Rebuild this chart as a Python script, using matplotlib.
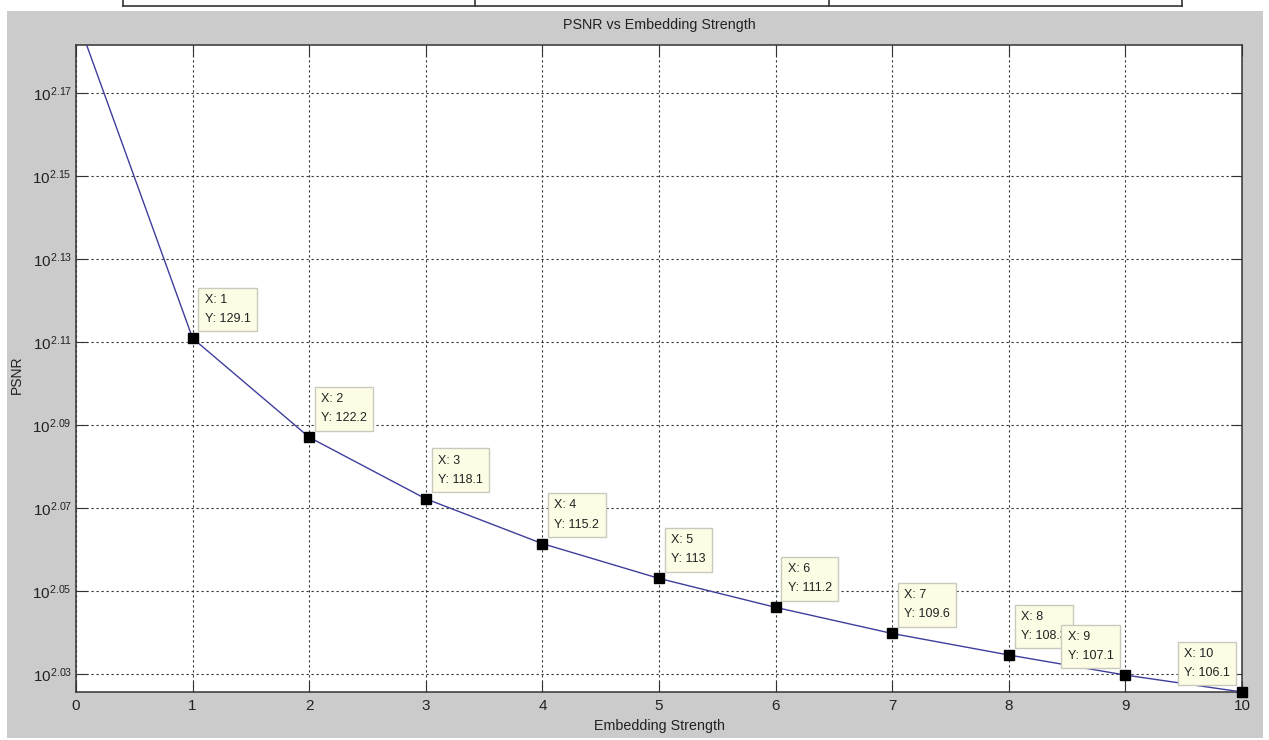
import matplotlib
matplotlib.use('Agg')
import matplotlib.pyplot as plt
from matplotlib.patches import Rectangle
from matplotlib.lines import Line2D
from matplotlib.ticker import FixedLocator, FuncFormatter, NullLocator
import numpy as np

# ---------------- data ----------------
strength = [0, 1, 2, 3, 4, 5, 6, 7, 8, 9, 10]
psnr = [154.4, 129.1, 122.2, 118.1, 115.2, 113.0, 111.2, 109.6, 108.3, 107.1, 106.1]
tip_x = [1, 2, 3, 4, 5, 6, 7, 8, 9, 10]
tip_y = [129.1, 122.2, 118.1, 115.2, 113.0, 111.2, 109.6, 108.3, 107.1, 106.1]
tip_y_text = ['129.1', '122.2', '118.1', '115.2', '113', '111.2', '109.6', '108.3', '107.1', '106.1']
tip_side = ['r', 'r', 'r', 'r', 'r', 'r', 'r', 'r', 'l', 'l']
x_ticks = [0, 1, 2, 3, 4, 5, 6, 7, 8, 9, 10]
y_tick_exponents = [2.03, 2.05, 2.07, 2.09, 2.11, 2.13, 2.15, 2.17]
title_text = 'PSNR vs Embedding Strength'
xlabel_text = 'Embedding Strength'
ylabel_text = 'PSNR'

# ---------------- style ----------------
plt.rcParams['font.family'] = ['Liberation Sans', 'DejaVu Sans']
plt.rcParams['mathtext.fontset'] = 'custom'
plt.rcParams['mathtext.rm'] = 'Liberation Sans'

W, H = 1269, 740
fig = plt.figure(figsize=(W / 100, H / 100), dpi=100, facecolor='white')

# gray figure panel
fig.add_artist(Rectangle((7 / W, 1 - 738 / H), (1263 - 7) / W, (738 - 11) / H,
                         transform=fig.transFigure, facecolor='#cbcbcb',
                         edgecolor='none', zorder=-10))

# table remnants at the very top
for xx in [123, 475, 829, 1182]:
    fig.add_artist(Line2D([xx / W, xx / W], [1.0, 1 - 6 / H], transform=fig.transFigure,
                          color='#333333', lw=1.2))
fig.add_artist(Line2D([123 / W, 1182 / W], [1 - 6 / H, 1 - 6 / H], transform=fig.transFigure,
                      color='#333333', lw=1.2))

ax = fig.add_axes([76 / W, 1 - 692 / H, (1242 - 76) / W, (692 - 45) / H])
ax.set_facecolor('white')
ax.set_yscale('log')
ax.set_xlim(0, 10)
ax.set_ylim(106.1, 151.9)

ax.plot(strength, psnr, color='#3e3e9c', lw=1.0, zorder=3)

ax.xaxis.set_major_locator(FixedLocator(x_ticks))
ax.yaxis.set_major_locator(FixedLocator([10 ** e for e in y_tick_exponents]))
ax.yaxis.set_minor_locator(NullLocator())
ax.yaxis.set_major_formatter(FuncFormatter(
    lambda v, pos: r'$\mathregular{10^{%.2f}}$' % np.log10(v)))

ax.grid(True, which='major', color='#333333', linestyle=(0, (2, 2.5)), linewidth=0.8, zorder=1)
ax.set_axisbelow(True)

ax.tick_params(which='both', direction='in', length=8, width=0.8, top=True, right=True,
               colors='#333333', labelcolor='#222222', labelsize=11)
ax.tick_params(axis='x', pad=5)
ax.tick_params(axis='y', pad=3)
for s in ax.spines.values():
    s.set_color('#333333')
    s.set_linewidth(1.1)

# data tips
for x, y, yt, side in zip(tip_x, tip_y, tip_y_text, tip_side):
    off = 12 if side == 'r' else -12
    ax.annotate('X: %d\nY: %s' % (x, yt), xy=(x, y), xytext=(off, 13),
                textcoords='offset pixels', ha='left' if side == 'r' else 'right',
                va='bottom', multialignment='left', fontsize=9, color='#222222',
                linespacing=1.8,
                bbox=dict(boxstyle='square,pad=0.5', facecolor='#fdfde6',
                          edgecolor='#c9c9bd', linewidth=1.0),
                zorder=6, annotation_clip=False)
ax.plot(tip_x, tip_y, 's', color='black', markersize=6.5, zorder=7, clip_on=False)

ax.set_title(title_text, fontsize=10.3, color='#222222', y=1 + (45 - 29) / 647, pad=0)
ax.set_xlabel(xlabel_text, fontsize=10.3, color='#222222')
ax.xaxis.set_label_coords(0.5, -(719 - 692) / 647)
ax.set_ylabel(ylabel_text, fontsize=10, color='#222222', va='center')
ax.yaxis.set_label_coords((17 - 76) / 1166, (692 - 375) / 647)

fig.savefig('out.png', dpi=100, facecolor='white')
